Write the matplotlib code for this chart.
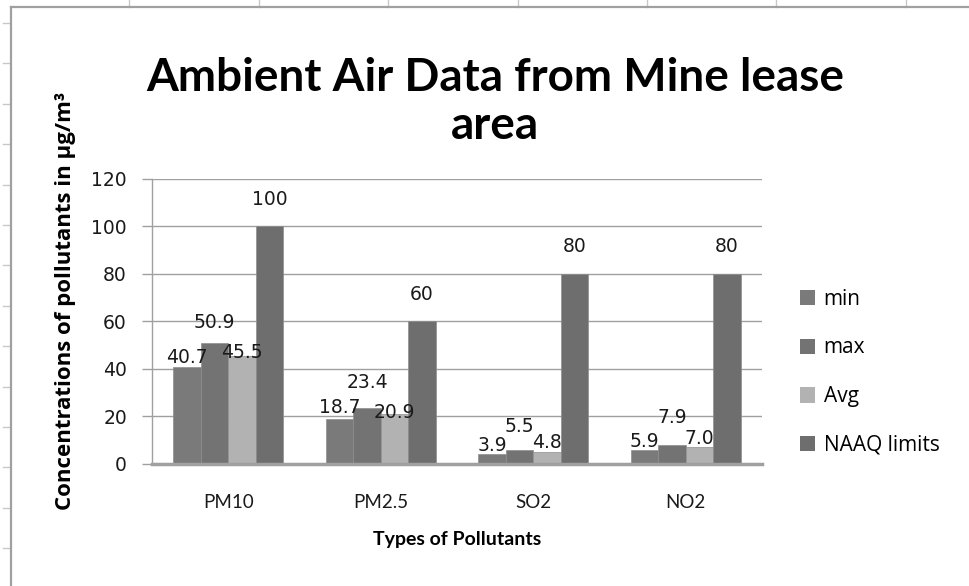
import matplotlib
matplotlib.use('Agg')
import matplotlib.pyplot as plt
import numpy as np
from matplotlib.lines import Line2D

# dades del gràfic
pollutants = ['PM10', 'PM2.5', 'SO2', 'NO2']
series_names = ['min', 'max', 'Avg', 'NAAQ limits']
min_vals = [40.7, 18.7, 3.9, 5.9]
max_vals = [50.9, 23.4, 5.5, 7.9]
avg_vals = [45.5, 20.9, 4.8, 7.0]
naaq_vals = [100, 60, 80, 80]
yticks = [0, 20, 40, 60, 80, 100, 120]

colors = ['#7a7a7a', '#737373', '#b2b2b2', '#6e6e6e']
label_fmt = ['%.1f', '%.1f', '%.1f', '%d']
# desplaçament vertical de les etiquetes (en píxels sobre la barra)
label_off = [[10, 12, 9, 8], [20, 26, 24, 27], [3, 1, 10, 8], [27, 27, 27, 27]]

text_font = ['Lato', 'DejaVu Sans']
wide_font = ['Open Sans', 'DejaVu Sans']
num_font = ['DejaVu Sans']

fig = plt.figure(figsize=(9.69, 5.86), dpi=100)
W, H = 969, 586

# fons de full de càlcul
grid_c = '#c8c8c8'
for gx in np.arange(129.4, W, 129.4):
    fig.add_artist(Line2D([gx / W, gx / W], [1, 1 - 7 / H], color=grid_c, lw=1))
for gy in np.arange(23, H, 40.4):
    fig.add_artist(Line2D([3 / W, 9 / W], [1 - gy / H, 1 - gy / H], color=grid_c, lw=1))
# vora del gràfic
fig.add_artist(Line2D([11 / W, 1], [1 - 7 / H, 1 - 7 / H], color='#a0a0a0', lw=1.6))
fig.add_artist(Line2D([11 / W, 11 / W], [1 - 7 / H, 0], color='#a0a0a0', lw=1.6))

ax = fig.add_axes([152 / W, 1 - 463.5 / H, (762 - 152) / W, (463.5 - 179) / H])

x = np.arange(len(pollutants))
width = 0.18
all_series = [min_vals, max_vals, avg_vals, naaq_vals]
for i, vals in enumerate(all_series):
    pos = x + (i - 1.5) * width
    ax.bar(pos, vals, width=width, color=colors[i], edgecolor='#8e8e8e',
           linewidth=0.5, label=series_names[i], zorder=3)
    for j, v in enumerate(vals):
        ax.annotate(label_fmt[i] % v, (pos[j], v), xytext=(0, label_off[i][j] * 0.72),
                    textcoords='offset points', ha='center', va='center',
                    fontsize=13.5, family=num_font, color='#1a1a1a', zorder=4)

ax.set_xlim(-0.5, len(pollutants) - 0.5)
ax.set_ylim(0, 120)
ax.set_yticks(yticks)
ax.set_yticklabels([str(t) for t in yticks], family=num_font, fontsize=13.5)
ax.set_xticks(x)
ax.set_xticklabels(pollutants, family=text_font, fontsize=13.5)
ax.tick_params(axis='x', length=0, pad=22, colors='#1a1a1a')
ax.tick_params(axis='y', length=7, width=1, color='#a0a0a0', pad=11, labelcolor='#1a1a1a')
ax.yaxis.grid(True, color='#a0a0a0', lw=1, zorder=0)
for s in ['top', 'right']:
    ax.spines[s].set_visible(False)
ax.spines['left'].set_color('#a0a0a0')
ax.spines['left'].set_linewidth(1)
ax.spines['bottom'].set_color('#a0a0a0')
ax.spines['bottom'].set_linewidth(2.5)
ax.spines['bottom'].set_zorder(5)

# títols
fig.text(495 / W, 1 - 102 / H, 'Ambient Air Data from Mine lease\narea', ha='center', va='center',
         fontsize=33, fontweight='bold', family=text_font, linespacing=1.16)
fig.text(66 / W, 1 - 301 / H, 'Concentrations of pollutants in µg/m³', rotation=90,
         ha='center', va='center', fontsize=16, fontweight='bold', family=wide_font)
fig.text(457 / W, 1 - 540 / H, 'Types of Pollutants', ha='center', va='center',
         fontsize=14, fontweight='bold', family=text_font)

leg = fig.legend(loc='upper left', bbox_to_anchor=(781 / W, 1 - 270 / H), frameon=False,
                 handlelength=0.75, handleheight=0.75, handletextpad=0.4, labelspacing=1.33,
                 prop={'family': wide_font, 'size': 15})
for h in leg.legend_handles:
    h.set_edgecolor('none')

fig.savefig('out.png', dpi=100)
